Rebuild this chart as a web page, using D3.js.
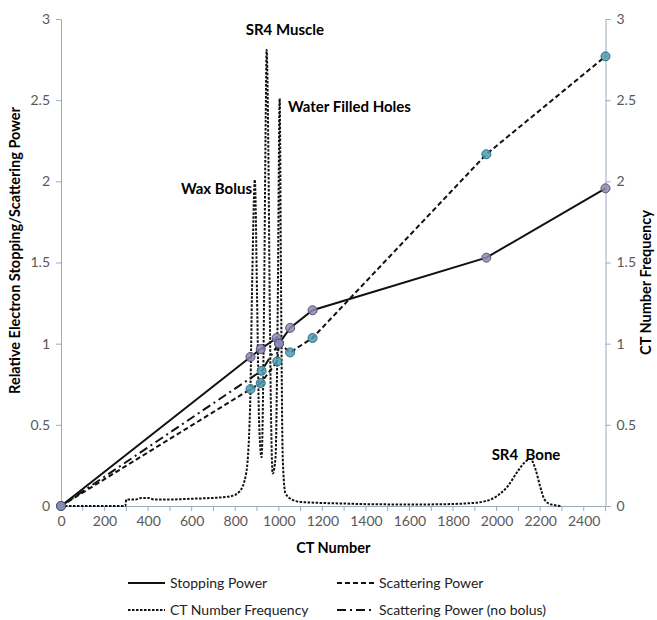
<!DOCTYPE html>
<html>
<head>
<meta charset="utf-8">
<script src="https://cdnjs.cloudflare.com/ajax/libs/d3/7.8.5/d3.min.js"></script>
<style>
  body { margin: 0; background: #fff; }
  text { font-family: Lato, "Open Sans", sans-serif; }
  .tick text { fill: #595959; font-size: 14px; }
  .axisTitle { font-weight: bold; font-size: 14.5px; fill: #000; }
  .note { font-weight: bold; font-size: 15px; fill: #000; }
</style>
</head>
<body>
<div id="chart"></div>
<script>
// Chart size
var svgWidth = 657;
var svgHeight = 620;

var margin = { top: 19, right: 51.5, bottom: 114, left: 61 };
var width = svgWidth - margin.left - margin.right;
var height = svgHeight - margin.top - margin.bottom;

// Data (CT number, relative value)
const stoppingCT    = [0, 870, 917, 990, 1001, 1052, 1155, 1953, 2500];
const stoppingVal   = [0, 0.918, 0.967, 1.035, 1.0, 1.097, 1.206, 1.53, 1.957];
const scatteringCT  = [0, 870, 917, 993, 1001, 1052, 1155, 1953, 2500];
const scatteringVal = [0, 0.72, 0.757, 0.891, 1.004, 0.946, 1.035, 2.167, 2.77];
const noBolusCT     = [0, 921, 1001];
const noBolusVal    = [0, 0.833, 1.004];

// CT number frequency histogram (right axis)
const freqCT  = [0, 295, 300, 340, 370, 400, 430, 500, 600, 700, 780, 820, 850, 868, 878, 890, 900, 910, 921,
                 932, 940, 944, 952, 958, 965, 972, 985, 995, 1004, 1010, 1018, 1030, 1060, 1100, 1300, 1500,
                 1700, 1850, 1950, 2000, 2050, 2100, 2130, 2155, 2180, 2200, 2220, 2250, 2300];
const freqVal = [0, 0, 0.04, 0.04, 0.05, 0.05, 0.04, 0.04, 0.045, 0.05, 0.06, 0.09, 0.2, 0.6, 1.4, 2.01, 1.3, 0.5, 0.3,
                 1.2, 2.4, 2.81, 2.2, 1.3, 0.5, 0.2, 0.3, 1.2, 2.51, 1.4, 0.3, 0.08, 0.04, 0.025, 0.015, 0.01,
                 0.01, 0.015, 0.03, 0.06, 0.12, 0.22, 0.27, 0.29, 0.22, 0.12, 0.04, 0.01, 0];

const xTicks = [0, 200, 400, 600, 800, 1000, 1200, 1400, 1600, 1800, 2000, 2200, 2400];
const yTicks = [0, 0.5, 1, 1.5, 2, 2.5, 3];

// annotation labels: text, CT, value, anchor
const noteText   = ["SR4 Muscle", "Water Filled Holes", "Wax Bolus", "SR4\u00a0\u00a0Bone"];
const noteCT     = [1028, 1042, 877, 2135];
const noteVal    = [2.9, 2.43, 1.92, 0.285];
const noteAnchor = ["middle", "start", "end", "middle"];

function zip(xs, ys) { return xs.map((x, i) => ({ x: x, y: ys[i] })); }

var svg = d3.select("#chart").append("svg")
  .attr("width", svgWidth)
  .attr("height", svgHeight);

var chartGroup = svg.append("g")
  .attr("transform", `translate(${margin.left}, ${margin.top})`);

var xScale = d3.scaleLinear().domain([0, 2500]).range([0, width]);
var yScale = d3.scaleLinear().domain([0, 3]).range([height, 0]);
var yRight = d3.scaleLinear().domain([0, 3]).range([height, 0]);

var axisColor = "#9aabbd";

// x axis: labels every 200, tick marks every 100
var xAxis = chartGroup.append("g")
  .attr("transform", `translate(0, ${height})`)
  .call(d3.axisBottom(xScale).tickValues(xTicks).tickSize(0).tickPadding(9).tickFormat(d3.format("d")));
xAxis.select(".domain").attr("stroke", axisColor);
xAxis.selectAll(".tick text").attr("dy", "0.8em");
chartGroup.append("g")
  .selectAll("line")
  .data(d3.range(0, 2501, 100))
  .enter()
  .append("line")
  .attr("x1", d => xScale(d)).attr("x2", d => xScale(d))
  .attr("y1", height).attr("y2", height + 5)
  .attr("stroke", axisColor);

var leftAxis = chartGroup.append("g")
  .call(d3.axisLeft(yScale).tickValues(yTicks).tickSize(5).tickPadding(6).tickFormat(d => d));
leftAxis.selectAll("line, .domain").attr("stroke", axisColor);

var rightAxis = chartGroup.append("g")
  .attr("transform", `translate(${width}, 0)`)
  .call(d3.axisRight(yRight).tickValues(yTicks).tickSize(5).tickPadding(6).tickFormat(d => d));
rightAxis.selectAll("line, .domain").attr("stroke", axisColor);

// axis titles
chartGroup.append("text")
  .attr("class", "axisTitle")
  .attr("text-anchor", "middle")
  .attr("x", width / 2)
  .attr("y", height + 47)
  .text("CT Number");

chartGroup.append("text")
  .attr("class", "axisTitle")
  .attr("text-anchor", "middle")
  .attr("transform", `translate(${-41}, ${height / 2 - 12}) rotate(-90)`)
  .text("Relative Electron Stopping/Scattering Power");

chartGroup.append("text")
  .attr("class", "axisTitle")
  .attr("text-anchor", "middle")
  .attr("transform", `translate(${width + 45}, ${height / 2 + 20}) rotate(-90)`)
  .text("CT Number Frequency");

var line = d3.line().x(d => xScale(d.x)).y(d => yScale(d.y));
var freqLine = d3.line().x(d => xScale(d.x)).y(d => yRight(d.y)).curve(d3.curveMonotoneX);

// frequency curve
chartGroup.append("path")
  .attr("d", freqLine(zip(freqCT, freqVal)))
  .attr("fill", "none")
  .attr("stroke", "#111")
  .attr("stroke-width", 2)
  .attr("stroke-dasharray", "2.5,1.5");

// power curves
chartGroup.append("path")
  .attr("d", line(zip(noBolusCT, noBolusVal)))
  .attr("fill", "none").attr("stroke", "#111").attr("stroke-width", 2)
  .attr("stroke-dasharray", "9,4,2,4");

chartGroup.append("path")
  .attr("d", line(zip(scatteringCT, scatteringVal)))
  .attr("fill", "none").attr("stroke", "#111").attr("stroke-width", 2)
  .attr("stroke-dasharray", "5,3");

chartGroup.append("path")
  .attr("d", line(zip(stoppingCT, stoppingVal)))
  .attr("fill", "none").attr("stroke", "#111").attr("stroke-width", 2);

// markers
function addMarkers(pts, fill, stroke) {
  chartGroup.append("g")
    .selectAll("circle")
    .data(pts)
    .enter()
    .append("circle")
    .attr("cx", d => xScale(d.x))
    .attr("cy", d => yScale(d.y))
    .attr("r", 4.5)
    .attr("fill", fill)
    .attr("fill-opacity", 0.85)
    .attr("stroke", stroke)
    .attr("stroke-width", 1);
}
addMarkers(zip(noBolusCT, noBolusVal), "#4c9db3", "#2f6f82");
addMarkers(zip(scatteringCT, scatteringVal), "#4c9db3", "#2f6f82");
addMarkers(zip(stoppingCT, stoppingVal), "#8e89b0", "#55507a");

// annotations
noteText.forEach((t, i) => {
  chartGroup.append("text")
    .attr("class", "note")
    .attr("text-anchor", noteAnchor[i])
    .attr("x", xScale(noteCT[i]))
    .attr("y", yScale(noteVal[i]))
    .text(t);
});

// legend
const legendText = ["Stopping Power", "Scattering Power", "CT Number Frequency", "Scattering Power (no bolus)"];
const legendDash = [null, "5,3", "2.5,1.5", "9,4,2,4"];
const legendWidth = [2, 2, 2, 2];
var legend = svg.append("g");
legendText.forEach((t, i) => {
  var lx = i % 2 === 0 ? 128 : 337;
  var ly = i < 2 ? 583 : 610;
  legend.append("line")
    .attr("x1", lx).attr("x2", lx + 37)
    .attr("y1", ly).attr("y2", ly)
    .attr("stroke", "#111")
    .attr("stroke-width", legendWidth[i])
    .attr("stroke-dasharray", legendDash[i]);
  legend.append("text")
    .attr("x", lx + 42)
    .attr("y", ly)
    .attr("dy", "0.35em")
    .attr("font-size", 14)
    .attr("fill", "#222")
    .text(t);
});
</script>
</body>
</html>
